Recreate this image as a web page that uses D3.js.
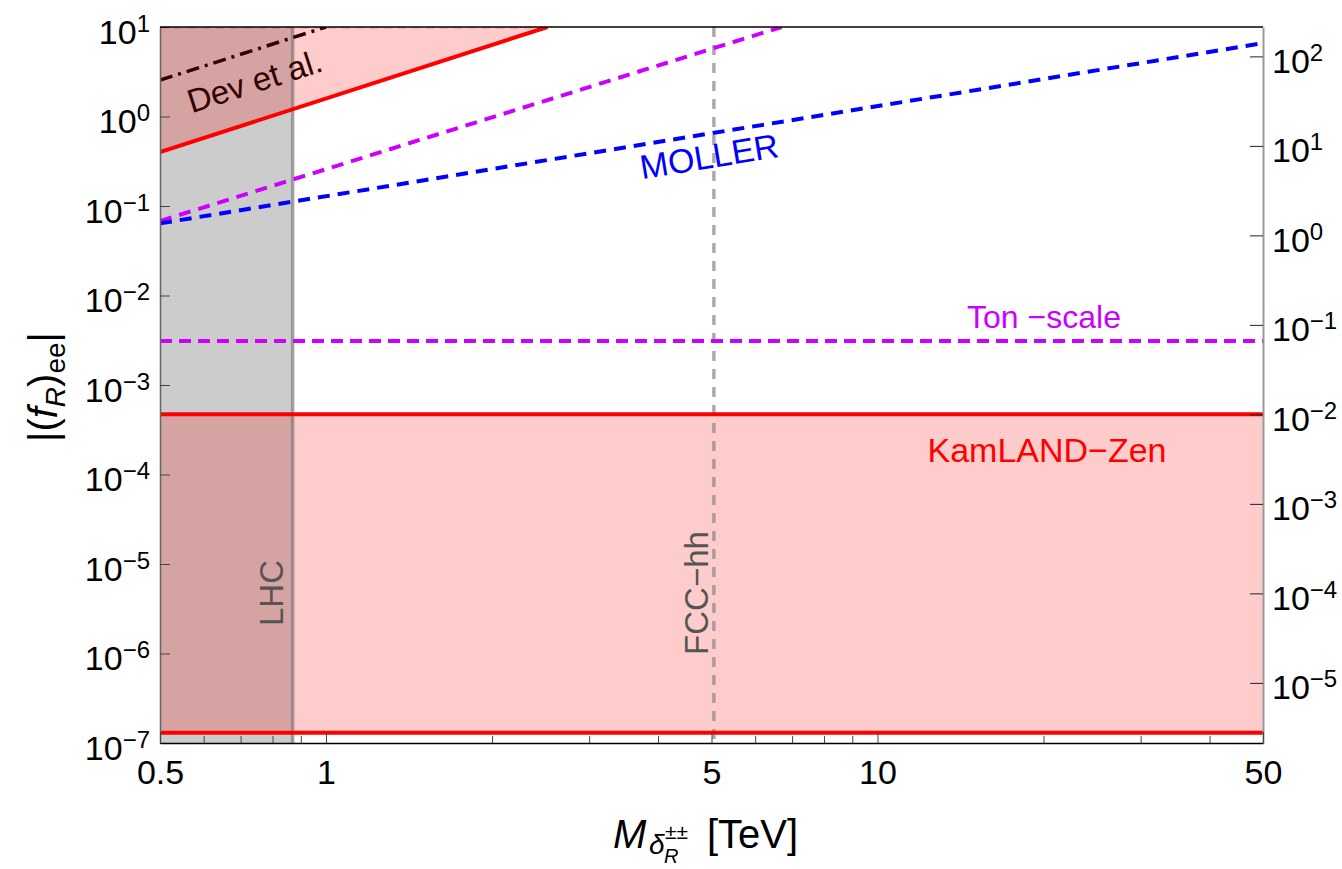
<!DOCTYPE html>
<html>
<head>
<meta charset="utf-8">
<script src="https://cdn.jsdelivr.net/npm/d3@7"></script>
<style>
  body { margin: 0; background: #fff; }
  svg { display: block; font-family: "Liberation Sans", Arial, sans-serif; }
</style>
</head>
<body>
<svg id="chart" width="1342" height="869"></svg>
<script>
// data (TeV on x, |(f_R)_ee| on y)
const massRange = [0.5, 50];
const couplingRange = [1e-7, 10];
const rightFactor = 21.3;          // right axis = left axis * factor
const xMajorTicks = [0.5, 1, 5, 10, 50];
const xMinorTicks = [0.6, 0.7, 0.8, 0.9, 2, 3, 4, 6, 7, 8, 9, 20, 30, 40];
const yLeftTicks = [1e-7, 1e-6, 1e-5, 1e-4, 1e-3, 1e-2, 1e-1, 1, 10];
const yRightTicks = [1e-5, 1e-4, 1e-3, 1e-2, 1e-1, 1, 10, 100];

const lhcBound = 0.87;
const fccReach = 5.05;
const kamlandBand = [1.3e-7, 4.7e-4];
const tonScale = 3.1e-3;
const devBound = [[0.5, 0.4], [2.52, 10]];      // red solid, shaded above
const devEtAl = [[0.5, 2.55], [1.0, 10]];       // dash-dot
const tonSlope = [[0.5, 0.068], [6.7, 10]];     // magenta sloped dashed
const moller = [[0.5, 0.064], [50, 6.6]];       // blue dashed

// layout
const L = 160, R = 1263, T = 27, B = 743;
const font = "'Liberation Sans', Arial, sans-serif";
const tickFont = 34;

const svg = d3.select("#chart");
const x = d3.scaleLog().domain(massRange).range([L, R]);
const y = d3.scaleLog().domain(couplingRange).range([B, T]);
const yR = d3.scaleLog().domain(couplingRange.map(v => v * rightFactor)).range([B, T]);

svg.append("defs").append("clipPath").attr("id", "clip")
  .append("rect").attr("x", L).attr("y", T).attr("width", R - L).attr("height", B - T);

const plot = svg.append("g").attr("clip-path", "url(#clip)");
const line = d3.line().x(d => x(d[0])).y(d => y(d[1]));

// LHC excluded region
plot.append("rect")
  .attr("x", x(massRange[0])).attr("y", T)
  .attr("width", x(lhcBound) - x(massRange[0])).attr("height", B - T)
  .attr("fill", "#cccccc");

// KamLAND-Zen band
plot.append("rect")
  .attr("x", L).attr("width", R - L)
  .attr("y", y(kamlandBand[1])).attr("height", y(kamlandBand[0]) - y(kamlandBand[1]))
  .attr("fill", "red").attr("fill-opacity", 0.2);

// region above red boundary
plot.append("path").datum(devBound)
  .attr("d", d3.area().x(d => x(d[0])).y0(d => y(d[1])).y1(y(couplingRange[1])))
  .attr("fill", "red").attr("fill-opacity", 0.2);
plot.append("path").datum([[devBound[0][0], couplingRange[1]], devBound[1]])
  .attr("d", line).attr("stroke", "red").attr("stroke-opacity", 0.25)
  .attr("stroke-width", 3).attr("stroke-dasharray", "8,6").attr("fill", "none");

// LHC bound line
plot.append("line")
  .attr("x1", x(lhcBound)).attr("x2", x(lhcBound)).attr("y1", T).attr("y2", B)
  .attr("stroke", "#777").attr("stroke-opacity", 0.65).attr("stroke-width", 3.5);

// FCC-hh reach
plot.append("line")
  .attr("x1", x(fccReach)).attr("x2", x(fccReach)).attr("y1", T).attr("y2", B)
  .attr("stroke", "#888").attr("stroke-opacity", 0.7).attr("stroke-width", 3.5)
  .attr("stroke-dasharray", "10,8");

// ton-scale
plot.append("line")
  .attr("x1", L).attr("x2", R).attr("y1", y(tonScale)).attr("y2", y(tonScale))
  .attr("stroke", "#cc00ff").attr("stroke-width", 4).attr("stroke-dasharray", "12,7");

plot.append("path").datum(tonSlope).attr("d", line)
  .attr("stroke", "#cc00ff").attr("stroke-width", 4).attr("stroke-dasharray", "12,8").attr("fill", "none");

plot.append("path").datum(moller).attr("d", line)
  .attr("stroke", "#0000ff").attr("stroke-width", 4).attr("stroke-dasharray", "12,8").attr("fill", "none");

// red solid lines
kamlandBand.forEach(v => {
  plot.append("line")
    .attr("x1", L).attr("x2", R).attr("y1", y(v)).attr("y2", y(v))
    .attr("stroke", "red").attr("stroke-width", 4);
});
plot.append("path").datum(devBound).attr("d", line)
  .attr("stroke", "red").attr("stroke-width", 4).attr("fill", "none");

plot.append("path").datum(devEtAl).attr("d", line)
  .attr("stroke", "#330000").attr("stroke-width", 3.5).attr("stroke-dasharray", "13,6,3,6").attr("fill", "none");

// labels
svg.append("text").attr("transform", "translate(258,92) rotate(-17.8)")
  .attr("text-anchor", "middle").attr("font-size", 33).attr("fill", "#330000").text("Dev et al.");
svg.append("text").attr("transform", "translate(711,168) rotate(-9.3)")
  .attr("text-anchor", "middle").attr("font-size", 34).attr("fill", "#0000ff").text("MOLLER");
svg.append("text").attr("x", 1044).attr("y", 328)
  .attr("text-anchor", "middle").attr("font-size", 32).attr("fill", "#cc00ff").text("Ton \u2212scale");
svg.append("text").attr("x", 1047).attr("y", 462)
  .attr("text-anchor", "middle").attr("font-size", 34).attr("fill", "red").text("KamLAND\u2212Zen");
svg.append("text").attr("transform", "translate(283,593) rotate(-90)")
  .attr("text-anchor", "middle").attr("font-size", 33).attr("fill", "#555").text("LHC");
svg.append("text").attr("transform", "translate(708,593) rotate(-90)")
  .attr("text-anchor", "middle").attr("font-size", 33).attr("fill", "#555").text("FCC\u2212hh");

// axes
function powerLabels(g, baseY) {
  g.selectAll(".tick text").each(function(d) {
    const e = Math.round(Math.log10(d));
    const t = d3.select(this);
    t.text(null).attr("dy", null).attr("y", baseY);
    t.append("tspan").text("10");
    t.append("tspan").attr("dy", -12).attr("font-size", 24).text(e < 0 ? "\u2212" + (-e) : e);
  });
}

const gLeft = svg.append("g").attr("transform", `translate(${L},0)`)
  .call(d3.axisLeft(y).tickValues(yLeftTicks).tickSizeInner(-10).tickSizeOuter(0).tickPadding(10));
gLeft.attr("font-size", tickFont).attr("font-family", font);
gLeft.select(".domain").attr("stroke", "#666").attr("stroke-width", 1.5);
gLeft.selectAll(".tick line").attr("stroke", "#444");
gLeft.selectAll(".tick text").attr("fill", "#000");
powerLabels(gLeft, 16);

const gRight = svg.append("g").attr("transform", `translate(${R},0)`)
  .call(d3.axisRight(yR).tickValues(yRightTicks).tickSizeInner(-13).tickSizeOuter(0).tickPadding(9));
gRight.attr("font-size", tickFont).attr("font-family", font);
gRight.select(".domain").attr("stroke", "#999").attr("stroke-width", 2);
gRight.selectAll(".tick line").attr("stroke", "#222");
gRight.selectAll(".tick text").attr("fill", "#000");
powerLabels(gRight, 16);

const gMinor = svg.append("g").attr("transform", `translate(0,${B})`)
  .call(d3.axisBottom(x).tickValues(xMinorTicks).tickSizeInner(-7).tickSizeOuter(0).tickFormat(""));
gMinor.select(".domain").remove();
gMinor.selectAll(".tick line").attr("stroke", "#444");

const gBottom = svg.append("g").attr("transform", `translate(0,${B})`)
  .call(d3.axisBottom(x).tickValues(xMajorTicks).tickSizeInner(-11).tickSizeOuter(0).tickPadding(17)
    .tickFormat(d => String(d)));
gBottom.attr("font-size", tickFont).attr("font-family", font);
gBottom.select(".domain").attr("stroke", "#000").attr("stroke-width", 1.5);
gBottom.selectAll(".tick line").attr("stroke", "#444");
gBottom.selectAll(".tick text").attr("fill", "#000");

// top frame
svg.append("line").attr("x1", L).attr("x2", R).attr("y1", T).attr("y2", T)
  .attr("stroke", "#000").attr("stroke-width", 1.5);

// y axis title |(f_R)_ee|
const yt = svg.append("text").attr("transform", "translate(57,387) rotate(-90)")
  .attr("text-anchor", "middle").attr("font-size", 40).attr("fill", "#000");
yt.append("tspan").text("|(");
yt.append("tspan").attr("font-style", "italic").text("f");
yt.append("tspan").attr("font-style", "italic").attr("font-size", 28).attr("dy", 8).text("R");
yt.append("tspan").attr("dy", -8).text(")");
yt.append("tspan").attr("font-size", 28).attr("dy", 8).text("ee");
yt.append("tspan").attr("dy", -8).text("|");

// x axis title M_{delta_R^{++}} [TeV]
const xt = svg.append("g").attr("fill", "#000");
xt.append("text").attr("x", 613).attr("y", 848).attr("font-size", 40).attr("font-style", "italic").text("M");
xt.append("text").attr("x", 649).attr("y", 854).attr("font-size", 28).attr("font-style", "italic").text("\u03b4");
xt.append("text").attr("x", 665).attr("y", 839).attr("font-size", 21).text("\u00b1\u00b1");
xt.append("text").attr("x", 664).attr("y", 863).attr("font-size", 20).attr("font-style", "italic").text("R");
xt.append("text").attr("x", 707).attr("y", 848).attr("font-size", 40).text("[TeV]");
</script>
</body>
</html>
